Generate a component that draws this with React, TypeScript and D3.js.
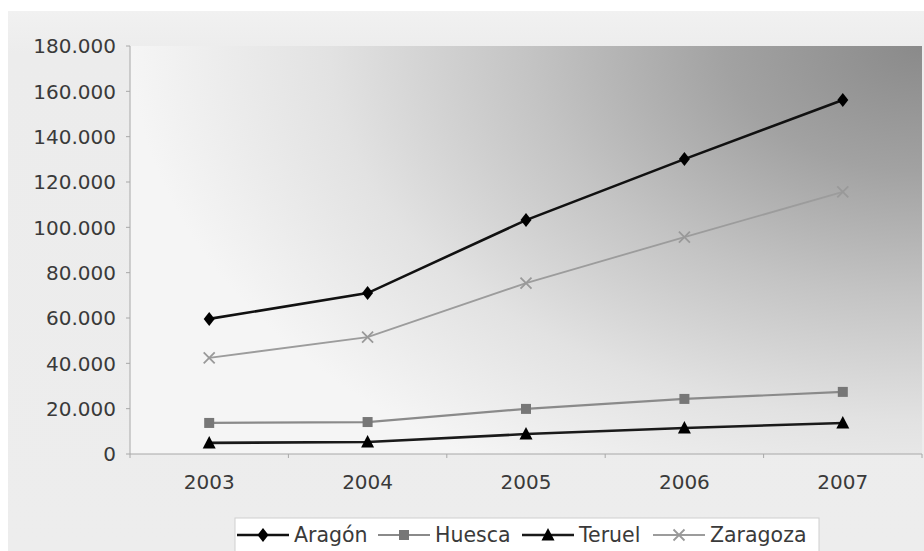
import React from "react";
import * as d3 from "d3";

const years = ["2003", "2004", "2005", "2006", "2007"];
const aragon = [59600, 71000, 103200, 130100, 156200];
const huesca = [13700, 14100, 19900, 24300, 27400];
const teruel = [4900, 5300, 8800, 11500, 13700];
const zaragoza = [42400, 51600, 75400, 95700, 115600];
const yTicks = [0, 20000, 40000, 60000, 80000, 100000, 120000, 140000, 160000, 180000];

const W = 924, H = 551;
const plot = { left: 130, right: 922, top: 46, bottom: 454 };
const FONT = "'DejaVu Sans', Verdana, sans-serif";

type Series = { name: string; values: number[]; stroke: string; width: number; marker: string; mcolor: string };
const series: Series[] = [
  { name: "Aragón", values: aragon, stroke: "#111", width: 2.6, marker: "diamond", mcolor: "#000" },
  { name: "Huesca", values: huesca, stroke: "#8a8a8a", width: 2.2, marker: "square", mcolor: "#777" },
  { name: "Teruel", values: teruel, stroke: "#1a1a1a", width: 2.6, marker: "triangle", mcolor: "#000" },
  { name: "Zaragoza", values: zaragoza, stroke: "#9c9c9c", width: 1.8, marker: "x", mcolor: "#999" },
];

const legendX = [237, 378, 522, 653];

function Marker({ type, x, y, color }: { type: string; x: number; y: number; color: string }) {
  if (type === "diamond") {
    return <path d={`M${x},${y - 7}L${x + 5.5},${y}L${x},${y + 7}L${x - 5.5},${y}Z`} fill={color} />;
  }
  if (type === "square") {
    return <rect x={x - 5} y={y - 5} width={10} height={10} fill={color} />;
  }
  if (type === "triangle") {
    return <path d={`M${x},${y - 7}L${x + 6.5},${y + 5.5}L${x - 6.5},${y + 5.5}Z`} fill={color} />;
  }
  return (
    <path d={`M${x - 5.5},${y - 5.5}L${x + 5.5},${y + 5.5}M${x + 5.5},${y - 5.5}L${x - 5.5},${y + 5.5}`} stroke={color} strokeWidth={1.8} fill="none" />
  );
}

export default function App() {
  const x = d3.scaleBand<string>().domain(years).range([plot.left, plot.right]);
  const y = d3.scaleLinear().domain([0, 180000]).range([plot.bottom, plot.top]);
  const loc = d3.formatLocale({ decimal: ",", thousands: ".", grouping: [3], currency: ["", ""] });
  const fmt = loc.format(",d");
  const cx = (yr: string) => (x(yr) as number) + x.bandwidth() / 2;
  const line = d3
    .line<number>()
    .x((_, i) => cx(years[i]))
    .y((v) => y(v));

  const boundaries = years.map((yr) => x(yr) as number).concat([plot.right]);

  return (
    <svg width={W} height={H} style={{ position: "absolute", left: 0, top: 0 }} fontFamily={FONT}>
      <defs>
        <radialGradient id="pg" gradientUnits="userSpaceOnUse" cx={plot.right} cy={plot.top} r={1}
          gradientTransform={`translate(${plot.right},${plot.top}) scale(790,500) translate(${-plot.right},${-plot.top})`}>
          <stop offset="0" stopColor="#8a8a8a" />
          <stop offset="0.25" stopColor="#a2a2a2" />
          <stop offset="0.5" stopColor="#c4c4c4" />
          <stop offset="0.75" stopColor="#e2e2e2" />
          <stop offset="1" stopColor="#f5f5f5" />
        </radialGradient>
        <linearGradient id="bg" x1="0" y1="0" x2="0" y2="1">
          <stop offset="0" stopColor="#f1f1f1" />
          <stop offset="0.08" stopColor="#ececec" />
          <stop offset="1" stopColor="#ededed" />
        </linearGradient>
      </defs>
      <rect x={0} y={0} width={W} height={H} fill="#fff" />
      <rect x={8} y={11} width={W - 8} height={H - 11} fill="url(#bg)" />
      <rect x={plot.left} y={plot.top} width={plot.right - plot.left} height={plot.bottom - plot.top} fill="url(#pg)" />

      {/* axes */}
      <line x1={plot.left} x2={plot.left} y1={plot.top} y2={plot.bottom} stroke="#a8a8a8" strokeWidth={1} />
      <line x1={plot.left} x2={plot.right} y1={plot.bottom} y2={plot.bottom} stroke="#a8a8a8" strokeWidth={1} />
      {yTicks.map((t) => (
        <g key={t}>
          <line x1={plot.left - 4} x2={plot.left} y1={y(t)} y2={y(t)} stroke="#a8a8a8" />
          <text x={116} y={y(t)} dy="0.36em" textAnchor="end" fontSize={20} fill="#3a3a3a">
            {fmt(t)}
          </text>
        </g>
      ))}
      {boundaries.map((b, i) => (
        <line key={i} x1={b} x2={b} y1={plot.bottom} y2={plot.bottom + 4} stroke="#a8a8a8" />
      ))}
      {years.map((yr) => (
        <text key={yr} x={cx(yr)} y={482} dy="0.36em" textAnchor="middle" fontSize={20} fill="#3a3a3a">
          {yr}
        </text>
      ))}

      {/* series */}
      {series.map((s) => (
        <g key={s.name}>
          <path d={line(s.values) || ""} fill="none" stroke={s.stroke} strokeWidth={s.width} />
          {s.values.map((v, i) => (
            <Marker key={i} type={s.marker} x={cx(years[i])} y={y(v)} color={s.mcolor} />
          ))}
        </g>
      ))}

      {/* legend */}
      <rect x={235} y={518} width={584} height={40} fill="#fff" stroke="#cfcfcf" />
      {series.map((s, i) => {
        const lx = legendX[i];
        return (
          <g key={s.name}>
            <line x1={lx} x2={lx + 52} y1={535} y2={535} stroke={s.stroke} strokeWidth={s.width} />
            <Marker type={s.marker} x={lx + 26} y={535} color={s.mcolor} />
            <text x={lx + 57} y={535} dy="0.36em" fontSize={20.5} fill="#3a3a3a">
              {s.name}
            </text>
          </g>
        );
      })}
    </svg>
  );
}
